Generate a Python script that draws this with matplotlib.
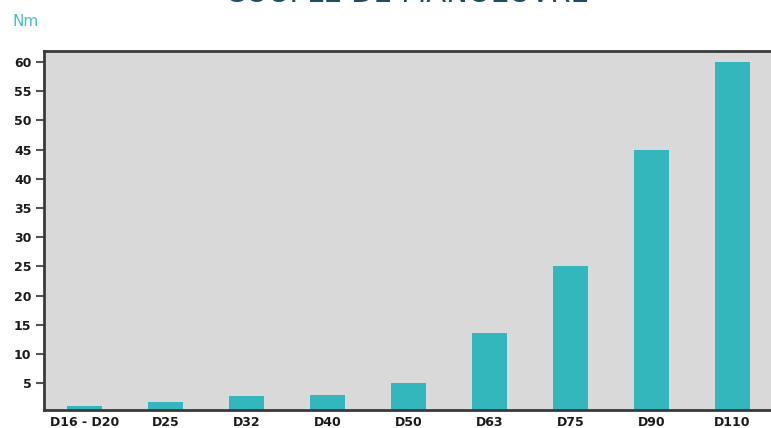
import matplotlib
matplotlib.use('Agg')
import matplotlib.pyplot as plt
import numpy as np

# torque per diameter
categories = ['D16 - D20', 'D25', 'D32', 'D40', 'D50', 'D63', 'D75', 'D90', 'D110']
torque = [1.0, 1.75, 2.75, 3.0, 5.0, 13.5, 25.0, 45.0, 60.0]
yticks = [5, 10, 15, 20, 25, 30, 35, 40, 45, 50, 55, 60]

W, H = 771, 428
fig = plt.figure(figsize=(W / 100, H / 100), dpi=100)
ax = fig.add_axes([44 / W, 1 - 410 / H, 1 - 44 / W, (410 - 51) / H])
ax.set_facecolor('#d9d9d9')

x = np.arange(len(categories))
ax.bar(x, torque, width=0.43, color='#33b7bc', zorder=2)

ax.set_xlim(-0.5, 8.475)
ax.set_ylim(0.38, 61.9)
ax.set_yticks(yticks)
ax.set_yticklabels([str(t) for t in yticks], fontsize=9, fontweight='bold', color='#1a1a1a')
ax.set_xticks(x)
ax.set_xticklabels(categories, fontsize=9, fontweight='bold', color='#1a1a1a')
ax.tick_params(axis='y', length=6, width=1.5, color='#555555', pad=3)
ax.tick_params(axis='x', length=0, pad=4)

for side in ['left', 'top', 'bottom']:
    ax.spines[side].set_color('#3a3a3a')
    ax.spines[side].set_linewidth(2)
ax.spines['right'].set_visible(False)

fig.text(12 / W, 1 - 26 / H, 'Nm', fontsize=11, color='#45c0c6', va='baseline')
# title sits mostly above the picture, only its foot shows
fig.text(407 / W, 1 - 1.5 / H, 'COUPLE DE MANOEUVRE', fontsize=21, color='#1f4e5f',
         va='baseline', ha='center')

plt.savefig('out.png', dpi=100)
